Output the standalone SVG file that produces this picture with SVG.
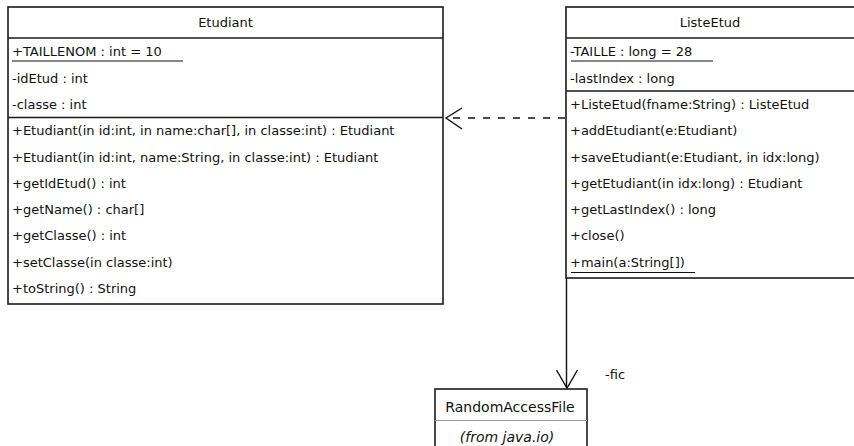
<svg xmlns="http://www.w3.org/2000/svg" width="854" height="446" viewBox="0 0 854 446">
<style>
  text { font-family: "DejaVu Sans", "Liberation Sans", sans-serif; font-size: 13px; fill: #111; }
  .title { text-anchor: middle; }
  .big { font-size: 14px; }
  .box { fill: #fff; stroke: #1a1a1a; stroke-width: 1.6; }
  .sep { stroke: #1a1a1a; stroke-width: 1.4; }
  .lsep { stroke: #999; stroke-width: 1; }
  .ul { stroke: #111; stroke-width: 1; }
  .conn { fill: none; stroke: #111; stroke-width: 1.4; }
  .dash { stroke-dasharray: 7 8; }
</style>
<rect width="854" height="446" fill="#fff"/>
<g id="Etudiant">
  <rect class="box" x="8" y="7" width="435" height="297"/>
  <line class="sep" x1="8" y1="38" x2="443" y2="38"/>
  <line class="sep" x1="8" y1="117.5" x2="443" y2="117.5"/>
  <text class="title" x="225.5" y="27">Etudiant</text>
  <text x="12" y="56">+TAILLENOM : int = 10</text>
  <line class="ul" x1="12" y1="61" x2="183" y2="61"/>
  <text x="12" y="82.5">-idEtud : int</text>
  <text x="12" y="108.5">-classe : int</text>
  <text x="12" y="135">+Etudiant(in id:int, in name:char[], in classe:int) : Etudiant</text>
  <text x="12" y="161.5">+Etudiant(in id:int, name:String, in classe:int) : Etudiant</text>
  <text x="12" y="187.5">+getIdEtud() : int</text>
  <text x="12" y="214">+getName() : char[]</text>
  <text x="12" y="240">+getClasse() : int</text>
  <text x="12" y="266.5">+setClasse(in classe:int)</text>
  <text x="12" y="293">+toString() : String</text>
</g>
<g id="ListeEtud">
  <rect class="box" x="566" y="7" width="292" height="271"/>
  <line class="sep" x1="566" y1="38" x2="858" y2="38"/>
  <line class="sep" x1="566" y1="91" x2="858" y2="91"/>
  <text class="title" x="710" y="27">ListeEtud</text>
  <text x="570" y="56">-TAILLE : long = 28</text>
  <line class="ul" x1="571" y1="61" x2="713" y2="61"/>
  <text x="570" y="82.5">-lastIndex : long</text>
  <text x="570" y="108.5">+ListeEtud(fname:String) : ListeEtud</text>
  <text x="570" y="135">+addEtudiant(e:Etudiant)</text>
  <text x="570" y="161.5">+saveEtudiant(e:Etudiant, in idx:long)</text>
  <text x="570" y="187.5">+getEtudiant(in idx:long) : Etudiant</text>
  <text x="570" y="214">+getLastIndex() : long</text>
  <text x="570" y="240">+close()</text>
  <text x="570" y="266.5">+main(a:String[])</text>
  <line class="ul" x1="571" y1="272.5" x2="695" y2="272.5"/>
</g>
<g id="RandomAccessFile">
  <rect class="box" x="435" y="389" width="152" height="70"/>
  <line class="lsep" x1="435" y1="420.5" x2="587" y2="420.5"/>
  <text class="title big" x="510" y="412">RandomAccessFile</text>
  <text class="title big" x="507" y="441.5" font-style="italic">(from java.io)</text>
</g>
<g id="connectors">
  <line class="conn dash" x1="565" y1="118" x2="447" y2="118"/>
  <polyline class="conn" points="462,108 446,118 462,129"/>
  <line class="conn" x1="566.5" y1="278" x2="566.5" y2="388"/>
  <polyline class="conn" points="556.5,370 567,388 577.5,370"/>
  <text x="605" y="379">-fic</text>
</g>
</svg>
